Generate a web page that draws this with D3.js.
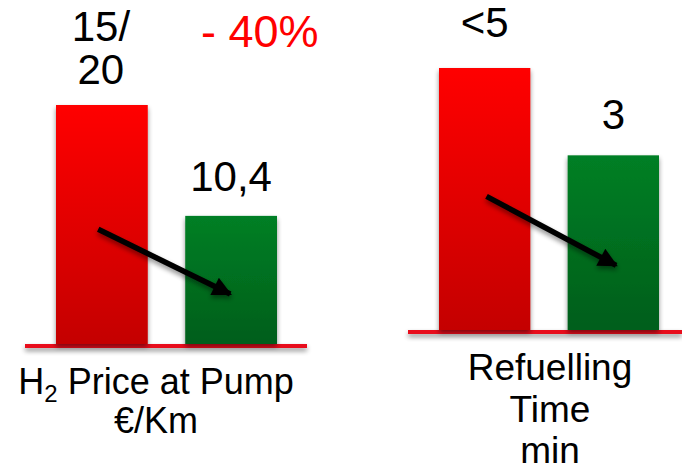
<!DOCTYPE html>
<html>
<head>
<meta charset="utf-8">
<script src="https://cdn.jsdelivr.net/npm/d3@7"></script>
<style>
  html, body { margin: 0; padding: 0; background: #fff; }
  svg { display: block; }
  text { font-family: Arial, "Liberation Sans", sans-serif; }
</style>
</head>
<body>
<svg id="chart" width="682" height="472"></svg>
<script>
// ---- data ----
const categories = ["Today", "Target"];
const priceValues = [19.4, 10.4];          // €/Km (label 15/20 → 10,4)
const priceLabels = [["15/", "20"], ["10,4"]];
const timeValues = [4.5, 3];               // min (label <5 → 3)
const timeLabels = [["<5"], ["3"]];
const priceTitle = ["H", "2", " Price at Pump", "€/Km"];
const timeTitle = ["Refuelling", "Time", "min"];
const changeLabel = "- 40%";

const svg = d3.select("#chart");
const defs = svg.append("defs");

function grad(id, c1, c2) {
  const g = defs.append("linearGradient").attr("id", id)
    .attr("x1", 0).attr("y1", 0).attr("x2", 0).attr("y2", 1);
  g.append("stop").attr("offset", "0%").attr("stop-color", c1);
  g.append("stop").attr("offset", "100%").attr("stop-color", c2);
}
grad("gRed", "#ff0000", "#c40000");
grad("gGreen", "#037f25", "#005e1a");

const sh = defs.append("filter").attr("id", "shadow")
  .attr("filterUnits", "userSpaceOnUse")
  .attr("x", 0).attr("y", 0).attr("width", 682).attr("height", 472);
sh.append("feGaussianBlur").attr("in", "SourceAlpha").attr("stdDeviation", 2.5).attr("result", "b");
sh.append("feOffset").attr("in", "b").attr("dx", 0).attr("dy", 3).attr("result", "o");
sh.append("feComponentTransfer").attr("in", "o").attr("result", "t")
  .append("feFuncA").attr("type", "linear").attr("slope", 0.45);
const m = sh.append("feMerge");
m.append("feMergeNode").attr("in", "t");
m.append("feMergeNode").attr("in", "SourceGraphic");

const mk = defs.append("marker").attr("id", "head")
  .attr("viewBox", "0 0 10 10").attr("refX", 9).attr("refY", 5)
  .attr("markerWidth", 4.4).attr("markerHeight", 3.5).attr("orient", "auto")
  .attr("markerUnits", "strokeWidth");
mk.append("path").attr("d", "M0,0 L10,5 L0,10 Z").attr("fill", "#000");

const fills = ["url(#gRed)", "url(#gGreen)"];

function panel(opts) {
  const x = d3.scaleBand().domain(categories).range(opts.xRange)
    .paddingInner(0.29).paddingOuter(0);
  const y = d3.scaleLinear().domain([0, opts.yMax]).range([opts.base, opts.top]);
  const g = svg.append("g");

  // baseline
  g.append("rect")
    .attr("x", opts.lineX[0]).attr("width", opts.lineX[1] - opts.lineX[0])
    .attr("y", opts.base).attr("height", 4)
    .attr("fill", "#e8101e")
    .attr("filter", "url(#shadow)");

  // bars
  g.selectAll("rect.bar").data(opts.values).join("rect")
    .attr("class", "bar")
    .attr("x", (d, i) => x(categories[i]))
    .attr("width", x.bandwidth())
    .attr("y", d => y(d))
    .attr("height", d => y(0) - y(d))
    .attr("fill", (d, i) => fills[i])
    .attr("filter", "url(#shadow)");

  // value labels
  opts.values.forEach((v, i) => {
    const lines = opts.labels[i];
    const cx = x(categories[i]) + x.bandwidth() / 2 + opts.labelDx[i];
    const lastBase = y(v) - opts.labelGap[i];
    lines.forEach((t, k) => {
      g.append("text")
        .attr("x", cx)
        .attr("y", lastBase - (lines.length - 1 - k) * 43)
        .attr("text-anchor", "middle")
        .attr("font-size", 42)
        .attr("fill", "#000")
        .text(t);
    });
  });

  // arrow
  const a = opts.arrow;
  const x0 = x(categories[0]) + x.bandwidth() * a[0];
  const y0 = y(opts.values[0] * a[1]);
  const x1 = x(categories[1]) + x.bandwidth() * a[2];
  const y1 = y(opts.values[1] * a[3]);
  g.append("line")
    .attr("x1", x0).attr("y1", y0).attr("x2", x1).attr("y2", y1)
    .attr("stroke", "#000").attr("stroke-width", 5.5)
    .attr("marker-end", "url(#head)")
    .attr("filter", "url(#shadow)");
  return { x, y, g };
}

const p1 = panel({
  xRange: [56, 277], base: 344, top: 105, yMax: priceValues[0],
  values: priceValues, labels: priceLabels, lineX: [25, 307],
  labelDx: [-1, 0], labelGap: [21, 25],
  arrow: [0.46, 0.48, 0.49, 0.39]
});
const p2 = panel({
  xRange: [439, 659], base: 330, top: 68, yMax: timeValues[0],
  values: timeValues, labels: timeLabels, lineX: [408, 682],
  labelDx: [0, 0], labelGap: [31, 26],
  arrow: [0.52, 0.51, 0.53, 0.37]
});

// change label
svg.append("text").attr("x", 201).attr("y", 47)
  .attr("font-size", 45).attr("fill", "#ff0000").text(changeLabel);

// titles
const t1 = svg.append("text").attr("x", 156).attr("y", 394)
  .attr("text-anchor", "middle").attr("font-size", 36).attr("fill", "#000");
t1.append("tspan").text(priceTitle[0]);
t1.append("tspan").attr("font-size", 24).attr("dy", 8).text(priceTitle[1]);
t1.append("tspan").attr("dy", -8).text(priceTitle[2]);
svg.append("text").attr("x", 156).attr("y", 433)
  .attr("text-anchor", "middle").attr("font-size", 36).attr("fill", "#000")
  .text(priceTitle[3]);

timeTitle.forEach((t, i) => {
  svg.append("text").attr("x", 550).attr("y", 380 + i * 41.5)
    .attr("text-anchor", "middle").attr("font-size", 37).attr("fill", "#000")
    .text(t);
});
</script>
</body>
</html>
